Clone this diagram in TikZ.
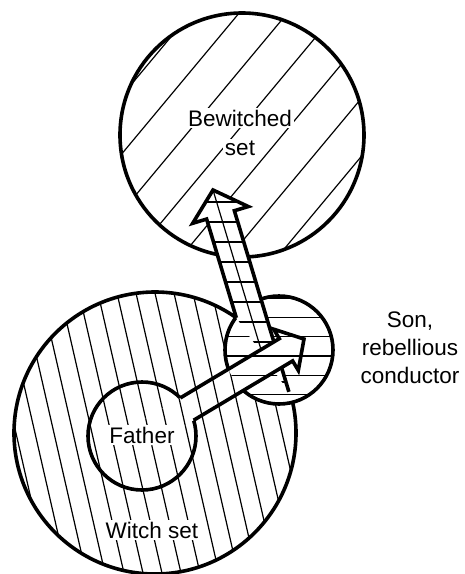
\documentclass[tikz,border=0pt]{standalone}
\usepackage{fontspec}
\setmainfont{Liberation Sans}
\usepackage{tikz}
\usetikzlibrary{calc}
\definecolor{ink}{HTML}{000000}
\newcommand{\witchhatch}{\foreach \k in {-4,...,16} \draw[hatch] ({19*(\k)},280) -- ++(80,350);}
\newcommand{\sonhatch}{\foreach \k in {0,...,5} \draw[hatch] (220,{298+19.3*\k}) -- ++(120,0);}

\begin{document}
\begin{tikzpicture}[x=1pt,y=-1pt,
  rim/.style={draw=ink,line width=3.6pt,line join=miter},
  hatch/.style={draw=ink,line width=1.2pt},
  lab/.style={font=\fontsize{22.5}{28}\selectfont,text=ink,align=center,inner sep=2pt}]
  \useasboundingbox (0,0) rectangle (465,574);
  \coordinate (bew) at (242,135);
  \coordinate (wit) at (155,433);
  \coordinate (fat) at (142,436);
  \coordinate (son) at (279,350);
  \coordinate (utail) at (275,396);
  \coordinate (utip) at (213,190);
  \coordinate (ftip) at (304,339);

  \fill[white] (bew) circle (122pt);
  \begin{scope}
    \clip (bew) circle (122pt);
    \foreach \k in {-3,...,7} \draw[hatch] ({(20+58*\k)/1.2},280) -- ++(300,-360);
  \end{scope}
  \draw[rim] (bew) circle (122pt);

  \begin{scope}
    \clip (wit) circle (141pt);
    \witchhatch
  \end{scope}
  \draw[rim] (wit) circle (141pt);
  \draw[rim] (fat) circle (54pt);

  \fill[white] (son) circle (54pt);
  \begin{scope}
    \clip (son) circle (54pt);
    \sonhatch
  \end{scope}
  \draw[rim] (son) circle (54pt);

  \coordinate (ubase) at ($(utip)!26pt!(utail)$);
  \coordinate (umid) at ($(utail)!86pt!(utip)$);
  \coordinate (ur0) at ($(utail)!14.5pt!-90:(utip)$);
  \coordinate (ul0) at ($(umid)!14.5pt!90:(utip)$);
  \coordinate (urh) at ($(ubase)!14.5pt!-90:(utip)$);
  \coordinate (ulh) at ($(ubase)!14.5pt!90:(utip)$);
  \coordinate (urb) at ($(ubase)!29pt!-90:(utip)$);
  \coordinate (ulb) at ($(ubase)!29pt!90:(utip)$);
  \fill[white] (ur0) -- (urh) -- (urb) -- (utip) -- (ulb) -- (ulh) -- (ul0) -- cycle;
  \begin{scope}
    \clip (ur0) -- (urh) -- (urb) -- (utip) -- (ulb) -- (ulh) -- (ul0) -- cycle;
    \foreach \k in {0,...,10} \draw[hatch] (180,{202+20*\k}) -- ++(130,0);
    \draw[hatch] (utail) -- (utip);
  \end{scope}
  \draw[rim] (ur0) -- (urh) -- (urb) -- (utip) -- (ulb) -- (ulh) -- (ul0);

  \coordinate (fbase) at ($(ftip)!21pt!(fat)$);
  \coordinate (fedge) at ($(fat)!52.4pt!(ftip)$);
  \coordinate (fa1) at ($(fat)!13pt!90:(ftip)$);
  \coordinate (fa2) at ($(fat)!13pt!-90:(ftip)$);
  \coordinate (fe1) at ($(fedge)!13pt!90:(ftip)$);
  \coordinate (fe2) at ($(fedge)!13pt!-90:(ftip)$);
  \coordinate (fh1) at ($(fbase)!13pt!90:(ftip)$);
  \coordinate (fh2) at ($(fbase)!13pt!-90:(ftip)$);
  \coordinate (fb1) at ($(fbase)!24pt!90:(ftip)$);
  \coordinate (fb2) at ($(fbase)!24pt!-90:(ftip)$);
  \fill[white] (fa1) -- (fh1) -- (fb1) -- (ftip) -- (fb2) -- (fh2) -- (fa2) -- cycle;
  \begin{scope}
    \clip (fa1) -- (fh1) -- (fb1) -- (ftip) -- (fb2) -- (fh2) -- (fa2) -- cycle;
    \begin{scope}
      \clip (wit) circle (141pt);
      \witchhatch
    \end{scope}
    \fill[white] (son) circle (54pt);
    \begin{scope}
      \clip (son) circle (54pt);
      \sonhatch
    \end{scope}
  \end{scope}
  \draw[rim] (fe1) -- (fh1) -- (fb1) -- (ftip) -- (fb2) -- (fh2) -- (fe2);

  \node[lab,fill=white] (bewtxt) at (240,118) {Bewitched};
  \node[lab,fill=white] (settxt) at (240,148) {set};
  \node[lab,fill=white] (fattxt) at (142,435) {Father};
  \node[lab,fill=white] (wittxt) at (152,530) {Witch set};
  \node[lab] (sontxt) at (410,348) {Son,\\rebellious\\conductor};
\end{tikzpicture}
\end{document}
